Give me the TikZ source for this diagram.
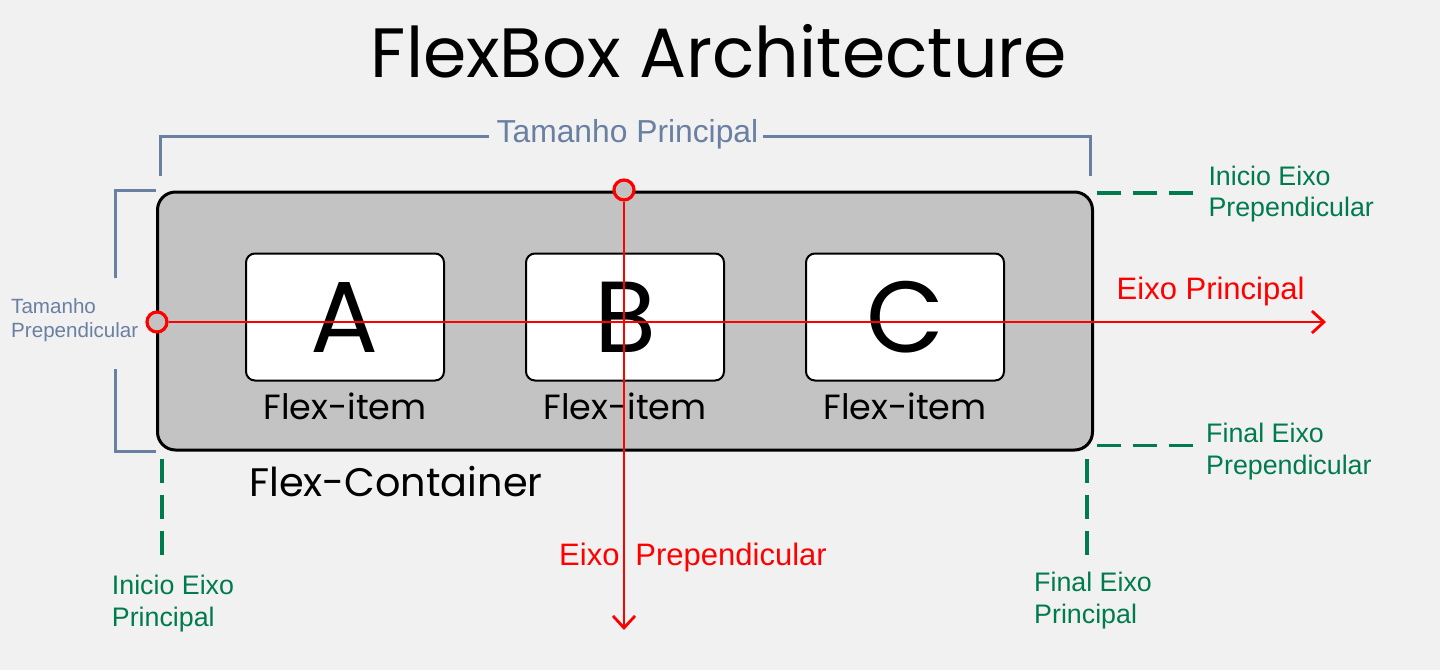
\documentclass[tikz,border=0pt]{standalone}
\usepackage{fontspec}
\setmainfont{Liberation Sans}
\newfontfamily\pop{Poppins}
\usetikzlibrary{arrows.meta}
\definecolor{bg}{HTML}{F1F1F1}
\definecolor{boxgray}{HTML}{C3C3C3}
\definecolor{slate}{HTML}{6A80A2}
\definecolor{dgreen}{RGB}{0,123,78}
\definecolor{axred}{RGB}{255,0,0}
\tikzset{
  container/.style={draw=black, line width=3pt, fill=boxgray, rounded corners=18pt,
    minimum width=935pt, minimum height=258pt, inner sep=0pt},
  item/.style={draw=black, line width=2pt, fill=white, rounded corners=9pt,
    minimum width=198pt, minimum height=127pt, inner sep=0pt,
    font=\pop\fontsize{101}{101}\selectfont, text height=70.5pt, text depth=0pt},
  itemlabel/.style={anchor=base, inner sep=0pt, font=\pop\fontsize{35}{40}\selectfont},
  bracketline/.style={draw=slate, line width=3pt},
  dimtext/.style={text=slate, inner sep=0pt},
  guide/.style={draw=dgreen, line width=3.5pt, dash pattern=on 24pt off 12pt},
  guidetext/.style={text=dgreen, inner sep=0pt, anchor=base west,
    font=\fontsize{26.8}{31.7}\selectfont},
  axis/.style={draw=axred, line width=2.8pt, -{Straight Barb[length=12pt,width=22pt]}},
  axistext/.style={text=axred, inner sep=0pt, anchor=base west, font=\fontsize{31}{36}\selectfont},
  origin/.style={circle, draw=axred, line width=3.2pt, fill=boxgray, minimum size=20pt, inner sep=0pt}
}
\begin{document}
\begin{tikzpicture}[x=1pt, y=-1pt]
\fill[bg] (0,0) rectangle (1440,670);
\useasboundingbox (0,0) rectangle (1440,670);

% title
\node[anchor=base, inner sep=0pt, font=\pop\fontsize{69.8}{80}\selectfont] (title) at (719,77) {FlexBox Architecture};

% container and items
\node[container] (fc) at (625,321) {};
\node[item] (a) at (345,317) {A};
\node[item] (b) at (625,317) {B};
\node[item] (c) at (905,317) {C};
\node[itemlabel] (fa) at (345,419.3) {Flex-item};
\node[itemlabel] (fb) at (625,419.3) {Flex-item};
\node[itemlabel] (fcl) at (905,419.3) {Flex-item};
\node[anchor=base west, inner sep=0pt, font=\pop\fontsize{39.8}{44}\selectfont] (fctext) at (249,496) {Flex-Container};

% Tamanho Principal bracket
\coordinate (tpl) at (160,176);
\coordinate (tpr) at (1090,176);
\coordinate (tpy) at (0,136);
\node[dimtext, anchor=base, font=\fontsize{31.8}{36}\selectfont] (tp) at (627.5,142.7) {Tamanho Principal};
\draw[bracketline] (tpl) |- ([xshift=-8pt]tp.west |- tpy);
\draw[bracketline] (tpr) |- ([xshift=4pt]tp.east |- tpy);

% Tamanho Prependicular bracket
\coordinate (lb1) at (156,190);
\coordinate (lb2) at (115,278);
\coordinate (lb3) at (115,369);
\coordinate (lb4) at (156,451);
\draw[bracketline] (lb1) -| (lb2);
\draw[bracketline] (lb3) |- (lb4);
\node[dimtext, anchor=base west, font=\fontsize{20.6}{24}\selectfont] (tpp) at (11,313.3)
  {\begin{tabular}[t]{@{}l@{}}Tamanho\\Prependicular\end{tabular}};

% green guides
\coordinate (g1a) at (1096.7,193);
\coordinate (g1b) at (1192.7,193);
\coordinate (g2a) at (1096.7,445.5);
\coordinate (g2b) at (1192.7,445.5);
\coordinate (g3a) at (162,459);
\coordinate (g3b) at (162,555);
\coordinate (g4a) at (1087,459);
\coordinate (g4b) at (1087,555);
\draw[guide] (g1a) -- (g1b);
\draw[guide] (g2a) -- (g2b);
\draw[guide] (g3a) -- (g3b);
\draw[guide] (g4a) -- (g4b);
\node[guidetext] (iep) at (1208.3,185) {\begin{tabular}[t]{@{}l@{}}Inicio Eixo\\Prependicular\end{tabular}};
\node[guidetext] (fep) at (1206,442.3) {\begin{tabular}[t]{@{}l@{}}Final Eixo\\Prependicular\end{tabular}};
\node[guidetext] (iepr) at (111.7,594.3) {\begin{tabular}[t]{@{}l@{}}Inicio Eixo\\Principal\end{tabular}};
\node[guidetext] (fepr) at (1034,591.7) {\begin{tabular}[t]{@{}l@{}}Final Eixo\\Principal\end{tabular}};

% red axes
\node[origin] (ol) at (157,322) {};
\node[origin] (ot) at (624,190) {};
\coordinate (mainend) at (1326,322);
\coordinate (crossend) at (624,630);
\draw[axis] (ol) -- (mainend);
\draw[axis] (ot) -- (crossend);
\node[axistext] (ept) at (1116.5,299.3) {Eixo Principal};
\node[axistext] (ecr) at (559,565.7) {Eixo\hspace{16pt}Prependicular};
\end{tikzpicture}
\end{document}
